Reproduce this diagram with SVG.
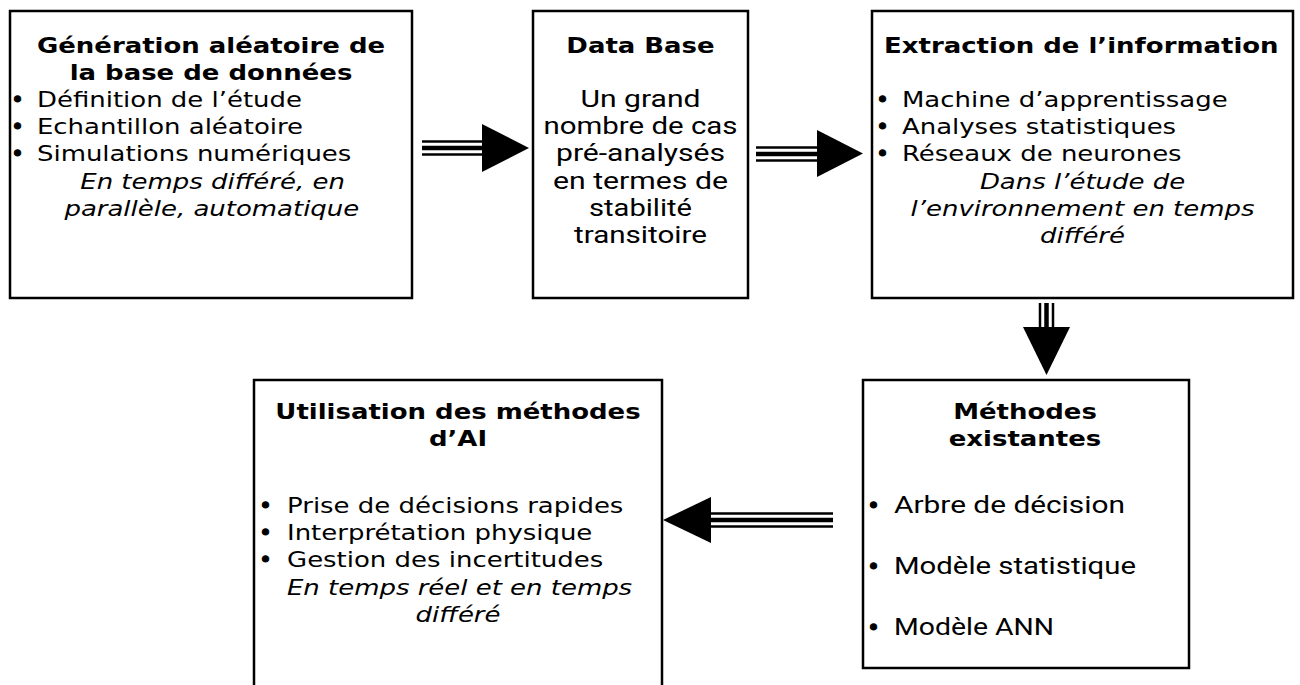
<svg xmlns="http://www.w3.org/2000/svg" width="1300" height="685" viewBox="0 0 1300 685">
<style>
.box{fill:#fff;stroke:#000;stroke-width:2.5}
.t{font-family:"DejaVu Sans",Verdana,sans-serif;font-size:22px;fill:#000}
.bl{font-family:"DejaVu Sans",Verdana,sans-serif;font-size:22px;fill:#000;stroke:#000;stroke-width:1}
.b{font-weight:bold}
.i{font-style:italic}
.c{text-anchor:middle}
.n{font-family:"Roboto","Liberation Sans",sans-serif;font-size:23px;fill:#000}
.sh{stroke:#000;fill:none}
.hd{fill:#000}
</style>
<rect width="1300" height="685" fill="#fff"/>
<g id="n1">
<rect class="box" x="10" y="11" width="402" height="287"/>
<text class="bl" x="11" y="107">•</text>
<text class="bl" x="11" y="134">•</text>
<text class="bl" x="11" y="161">•</text>
<g transform="translate(211,0) scale(1.18,1)">
<text class="t b c" x="0" y="53">Génération aléatoire de</text>
<text class="t b c" x="0" y="80">la base de données</text>
<text class="t" x="-147.5" y="107">Définition de l’étude</text>
<text class="t" x="-147.5" y="134">Echantillon aléatoire</text>
<text class="t" x="-147.5" y="161">Simulations numériques</text>
<text class="t i c" x="1.3" y="189">En temps différé, en</text>
<text class="t i c" x="0.7" y="216">parallèle, automatique</text>
</g>
</g>
<g id="n2">
<rect class="box" x="533" y="11" width="215" height="287"/>
<g transform="translate(640.5,0) scale(1.18,1)">
<text class="t b c" x="0" y="53">Data Base</text>
</g>
<text class="n c" x="640.5" y="107" textLength="120" lengthAdjust="spacingAndGlyphs">Un grand</text>
<text class="n c" x="640.5" y="134" textLength="194" lengthAdjust="spacingAndGlyphs">nombre de cas</text>
<text class="n c" x="640.5" y="161" textLength="169" lengthAdjust="spacingAndGlyphs">pré-analysés</text>
<text class="n c" x="640.5" y="189" textLength="175" lengthAdjust="spacingAndGlyphs">en termes de</text>
<text class="n c" x="640.5" y="216" textLength="103" lengthAdjust="spacingAndGlyphs">stabilité</text>
<text class="n c" x="640.5" y="243" textLength="133" lengthAdjust="spacingAndGlyphs">transitoire</text>
</g>
<g id="n3">
<rect class="box" x="872" y="11" width="421" height="287"/>
<text class="bl" x="876" y="107">•</text>
<text class="bl" x="876" y="134">•</text>
<text class="bl" x="876" y="161">•</text>
<g transform="translate(1082.5,0) scale(1.18,1)">
<text class="t b c" x="-1" y="53">Extraction de l’information</text>
<text class="t" x="-153" y="107">Machine d’apprentissage</text>
<text class="t" x="-153" y="134">Analyses statistiques</text>
<text class="t" x="-153" y="161">Réseaux de neurones</text>
<text class="t i c" x="0" y="189">Dans l’étude de</text>
<text class="t i c" x="0" y="216">l’environnement en temps</text>
<text class="t i c" x="0" y="243">différé</text>
</g>
</g>
<g id="n4">
<rect class="box" x="863" y="380" width="326" height="288"/>
<g transform="translate(1025,0) scale(1.18,1)">
<text class="t b c" x="0" y="419">Méthodes</text>
<text class="t b c" x="0" y="446">existantes</text>
</g>
<text class="bl" x="867" y="513">•</text><text class="n" x="894" y="513" textLength="231" lengthAdjust="spacingAndGlyphs">Arbre de décision</text>
<text class="bl" x="867" y="574">•</text><text class="n" x="894" y="574" textLength="242" lengthAdjust="spacingAndGlyphs">Modèle statistique</text>
<text class="bl" x="867" y="635">•</text><text class="n" x="894" y="635" textLength="160" lengthAdjust="spacingAndGlyphs">Modèle ANN</text>
</g>
<g id="n5">
<rect class="box" x="254" y="380" width="408" height="320"/>
<text class="bl" x="259" y="513">•</text>
<text class="bl" x="259" y="540">•</text>
<text class="bl" x="259" y="567">•</text>
<g transform="translate(458,0) scale(1.18,1)">
<text class="t b c" x="0" y="419">Utilisation des méthodes</text>
<text class="t b c" x="0" y="446">d’AI</text>
<text class="t" x="-144.9" y="513">Prise de décisions rapides</text>
<text class="t" x="-144.9" y="540">Interprétation physique</text>
<text class="t" x="-144.9" y="567">Gestion des incertitudes</text>
<text class="t i c" x="1.3" y="595">En temps réel et en temps</text>
<text class="t i c" x="0" y="622">différé</text>
</g>
</g>
<g id="connectors">
<g id="a1">
<path class="sh" d="M422 141.5H483" stroke-width="2.5"/>
<path class="sh" d="M422 148H483" stroke-width="4.5"/>
<path class="sh" d="M422 154.5H483" stroke-width="2.5"/>
<polygon class="hd" points="482,124 529,148 482,172"/>
</g>
<g id="a2">
<path class="sh" d="M756 147.5H818" stroke-width="2.5"/>
<path class="sh" d="M756 154H818" stroke-width="4.5"/>
<path class="sh" d="M756 160.5H818" stroke-width="2.5"/>
<polygon class="hd" points="817,130 863,153.5 817,177"/>
</g>
<g id="a3">
<path class="sh" d="M1040 303V328" stroke-width="2.5"/>
<path class="sh" d="M1046.5 303V328" stroke-width="4.5"/>
<path class="sh" d="M1053 303V328" stroke-width="2.5"/>
<polygon class="hd" points="1023,327 1070,327 1046.5,375"/>
</g>
<g id="a4">
<path class="sh" d="M710 513.5H833" stroke-width="2.5"/>
<path class="sh" d="M710 520H833" stroke-width="4.5"/>
<path class="sh" d="M710 526.5H833" stroke-width="2.5"/>
<polygon class="hd" points="711,497 663,520 711,543"/>
</g>
</g>
</svg>
